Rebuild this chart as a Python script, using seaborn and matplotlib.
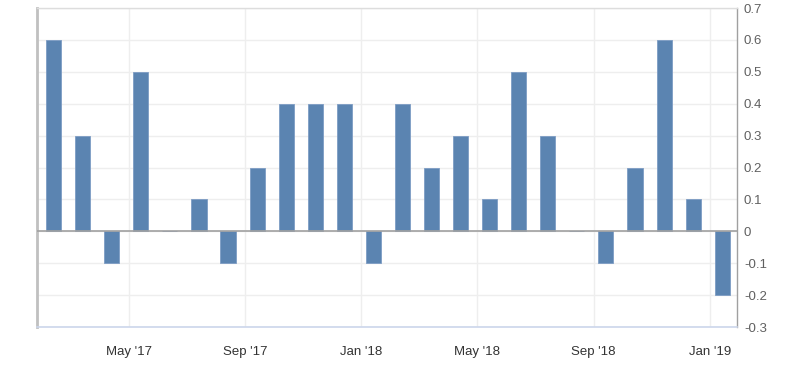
import pandas as pd
import seaborn as sns
import matplotlib
matplotlib.use("Agg")
import matplotlib.pyplot as plt

# monthly values, Feb 2017 .. Jan 2019
months = pd.date_range("2017-02-01", "2019-01-01", freq="MS")
values = [0.6, 0.3, -0.1, 0.5, 0.0, 0.1, -0.1, 0.2, 0.4, 0.4, 0.4, -0.1,
          0.4, 0.2, 0.3, 0.1, 0.5, 0.3, 0.0, -0.1, 0.2, 0.6, 0.1, -0.2]
tick_months = ["2017-05", "2017-09", "2018-01", "2018-05", "2018-09", "2019-01"]
tick_labels = ["May '17", "Sep '17", "Jan '18", "May '18", "Sep '18", "Jan '19"]
y_ticks = [-0.3, -0.2, -0.1, 0, 0.1, 0.2, 0.3, 0.4, 0.5, 0.6, 0.7]

sns.set_style("white")
plt.rcParams['font.family'] = ['Liberation Sans', 'DejaVu Sans']

df = pd.DataFrame({"month": months, "value": values})
df["x"] = range(len(df))
month_pos = {m.strftime("%Y-%m"): i for i, m in enumerate(months)}
# ticks mark the start of each month, bars sit mid-month
tick_pos = [month_pos[m] - 0.42 for m in tick_months]

fig = plt.figure(figsize=(8, 3.65), dpi=100)
ax = fig.add_axes([0.0463, 0.104, 0.875, 0.874])

for t in tick_pos:
    ax.axvline(t, color="#eeeeee", lw=1, zorder=0)
for yv in y_ticks:
    ax.axhline(yv, color="#eeeeee", lw=1, zorder=0)

sns.barplot(data=df, x="x", y="value", native_scale=True, errorbar=None,
            color="#5b84b1", saturation=1, width=0.52, edgecolor="#7d9cc4",
            linewidth=0.6, ax=ax, zorder=2)

ax.axhline(0, color="#a0a0a0", lw=1.2, zorder=3)

ax.set_xlim(-0.57, 23.51)
ax.set_ylim(-0.3, 0.7)
ax.set_xticks(tick_pos)
ax.set_xticklabels(tick_labels)
ax.set_yticks(y_ticks)
ax.set_yticklabels([f"{v:g}" for v in y_ticks])
ax.yaxis.tick_right()
ax.tick_params(axis="both", length=0, labelsize=9.5)
ax.tick_params(axis="x", pad=14, colors="#333333")
ax.tick_params(axis="y", pad=5, colors="#606060")
ax.set_xlabel("")
ax.set_ylabel("")

for side in ["top", "right", "left", "bottom"]:
    ax.spines[side].set_visible(True)
ax.spines["top"].set_color("#dddddd")
ax.spines["top"].set_linewidth(1)
ax.spines["right"].set_color("#a0a0a0")
ax.spines["right"].set_linewidth(1)
ax.spines["left"].set_color("#c0c0c0")
ax.spines["left"].set_linewidth(2)
ax.spines["bottom"].set_color("#ccd6eb")
ax.spines["bottom"].set_linewidth(1.2)

fig.savefig("out.png", dpi=100)
